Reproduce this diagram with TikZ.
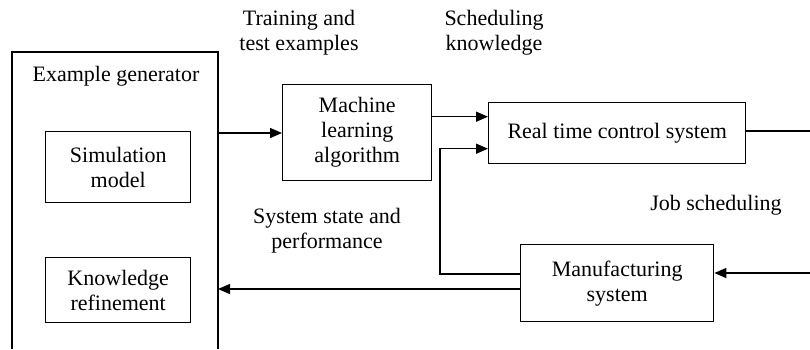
\documentclass[tikz,border=0pt]{standalone}
\usepackage{fontspec}
\setmainfont{Liberation Serif}
\usetikzlibrary{arrows.meta,calc}
\begin{document}
\begin{tikzpicture}[x=1pt,y=-1pt,
  txt/.style={font=\fontsize{22}{25}\selectfont, align=center, inner sep=0pt},
  blk/.style={draw, line width=1.4pt, txt, anchor=north west},
  ln/.style={line width=1.4pt},
  arr/.style={ln, -{Triangle[length=12pt,width=10pt]}}]
\useasboundingbox (0,0) rectangle (810,349);
% outer example generator (open at bottom)
\coordinate (egbl) at (12,349);
\coordinate (egtl) at (12,52);
\coordinate (egtr) at (218,52);
\coordinate (egbr) at (218,349);
\draw[ln] (egbl) -- (egtl) -- (egtr) -- (egbr);
\node[txt] (eglabel) at (116,76) {Example generator};
\node[blk, minimum width=145pt, minimum height=71pt] (sim) at (45,131) {Simulation\\model};
\node[blk, minimum width=145pt, minimum height=65pt] (kr) at (45,257) {Knowledge\\refinement};
\node[blk, minimum width=149pt, minimum height=96pt] (ml) at (282,84) {Machine\\learning\\algorithm};
\node[blk, minimum width=257pt, minimum height=61pt] (rt) at (488,102) {Real time control system};
\node[blk, minimum width=193pt, minimum height=77pt] (ms) at (520,244) {Manufacturing\\system};
\coordinate (egout) at (218,133);
\coordinate (egin) at (218,289);
\coordinate (rtout) at (810,131);
\coordinate (msin) at (810,273);
\coordinate (fb) at (440,274);
% labels
\node[txt] (l1) at (299,33) {Training and\\test examples};
\node[txt] (l2) at (494,33) {Scheduling\\knowledge};
\node[txt] (l3) at (716,205) {Job scheduling};
\node[txt] (l4) at (327,231) {System state and\\performance};
% connectors
\draw[arr] (egout) -- (egout -| ml.west);
\draw[arr] ([yshift=16pt]ml.east) -- ([yshift=16pt]ml.east -| rt.west);
\draw[ln] (rt.east |- rtout) -- (rtout);
\draw[arr] (msin) -- (msin -| ms.east);
\draw[arr] (fb -| ms.west) -- (fb) -- ([yshift=-15.5pt]rt.west -| fb) -- ([yshift=-15.5pt]rt.west);
\draw[arr] (egin -| ms.west) -- (egin);
\end{tikzpicture}
\end{document}
